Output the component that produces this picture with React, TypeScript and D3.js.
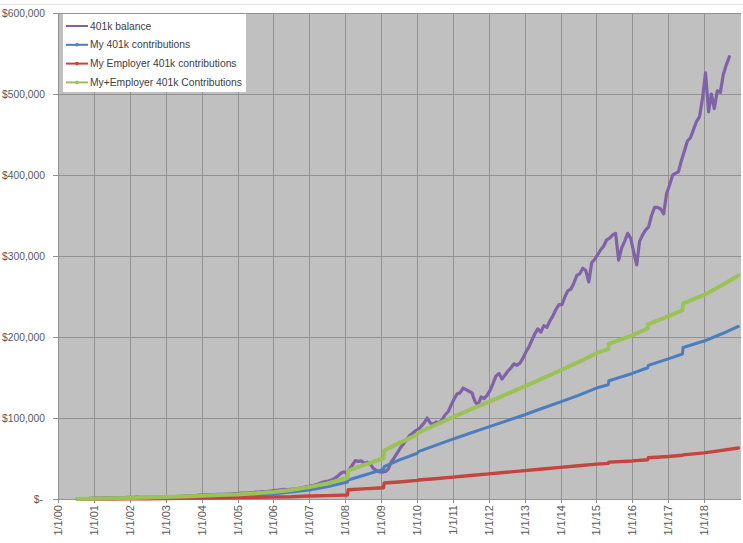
import React from "react";
import * as d3 from "d3";

// Monthly 401k balance in $ thousands, starting July 2000.
const balanceStart = new Date(2000, 6, 15);
const balanceK = [
  // 2000 (Jul-Dec)
  0.2, 0.4, 0.5, 0.6, 0.7, 0.9,
  // 2001
  1.0, 1.1, 1.1, 1.3, 1.4, 1.4, 1.5, 1.5, 1.4, 1.6, 1.8, 1.9,
  // 2002
  2.0, 2.1, 2.2, 2.1, 2.1, 2.0, 1.9, 2.0, 1.9, 2.1, 2.3, 2.3,
  // 2003
  2.4, 2.4, 2.6, 2.9, 3.2, 3.4, 3.6, 3.8, 3.9, 4.2, 4.4, 4.7,
  // 2004
  5.0, 5.2, 5.2, 5.3, 5.4, 5.6, 5.6, 5.7, 5.9, 6.1, 6.5, 6.8,
  // 2005
  7.0, 7.3, 7.3, 7.4, 7.8, 8.1, 8.6, 8.7, 9.0, 9.0, 9.6, 10.0,
  // 2006
  10.6, 10.9, 11.4, 11.9, 11.6, 11.8, 12.1, 12.6, 13.2, 13.9, 14.6, 15.2,
  // 2007
  16.2, 16.8, 17.8, 19.2, 20.6, 21.5, 22.2, 23.4, 25.5, 28.0, 31.5, 33.5,
  // 2008
  32.0, 37.0, 42.0, 47.5, 46.5, 47.0, 44.0, 45.5, 43.0, 37.5, 35.0, 33.5,
  // 2009
  33.0, 34.0, 37.0, 46.0, 51.0, 57.0, 63.0, 68.0, 73.0, 78.0, 81.0, 84.0,
  // 2010
  86, 90, 94, 100, 94, 92, 95, 94, 98, 104, 108, 116,
  // 2011
  124, 130, 131, 137, 135, 133, 131, 120, 116, 126, 124, 128,
  // 2012
  134, 143, 152, 155, 148, 153, 158, 162, 167, 165, 168, 174,
  // 2013
  182, 188, 196, 204, 210, 206, 214, 212, 220, 226, 234, 240,
  // 2014
  240, 250, 257, 259, 266, 276, 278, 285, 282, 268, 292, 296,
  // 2015
  302, 308, 312, 320, 322, 326, 328, 295, 310, 318, 328, 322,
  // 2016
  305, 289, 318, 326, 332, 336, 350, 360, 360, 358, 352, 377,
  // 2017
  388, 400, 402, 404, 418, 430, 442, 446, 456, 466, 472, 494,
  // 2018 (Jan-Sep)
  526, 478, 500, 482, 504, 502, 524, 536, 546,
];

// Cumulative contributions in $ thousands.
const contribDates = [
  "2000-07-15", "2001-01-01", "2001-07-01", "2002-01-01", "2002-07-01",
  "2003-01-01", "2003-07-01", "2004-01-01", "2004-07-01", "2005-01-01",
  "2005-07-01", "2006-01-01", "2006-07-01", "2007-01-01", "2007-07-01",
  "2008-01-25", "2008-02-01", "2008-07-01", "2009-01-25", "2009-02-01",
  "2009-07-01", "2010-01-05", "2010-01-15", "2010-07-01", "2011-01-01",
  "2011-07-01", "2012-01-01", "2012-07-01", "2013-01-01", "2013-07-01",
  "2014-01-01", "2014-07-01", "2015-01-01", "2015-05-01", "2015-05-08",
  "2016-01-01", "2016-06-05", "2016-06-12", "2017-01-01", "2017-05-25",
  "2017-06-01", "2018-01-01", "2018-07-01", "2018-12-15",
];
const myContribK = [
  0, 0.4, 0.8, 1.2, 1.5, 1.9, 2.3, 2.8, 3.3, 4.0,
  5.0, 6.3, 8.5, 11.0, 15.0, 21.0, 23.5, 29.0, 36.5, 40.0,
  48.0, 56.5, 58.5, 66.0, 74.0, 81.5, 89.0, 96.5, 104.0, 112.0,
  120.0, 128.0, 137.0, 141.0, 146.0, 155.0, 162.0, 165.0, 173.0, 179.0,
  187.0, 195.0, 204.0, 213.0,
];
const employerContribK = [
  0, 0, 0, 0.1, 0.3, 0.6, 0.9, 1.3, 1.5, 1.7,
  2.0, 2.4, 2.7, 3.7, 4.2, 5.0, 11.5, 12.5, 13.8, 19.8,
  21.0, 23.0, 23.5, 25.0, 27.0, 29.0, 31.0, 33.0, 35.0, 37.0,
  39.0, 41.0, 43.0, 44.0, 45.5, 47.0, 48.5, 51.0, 52.5, 54.0,
  54.5, 57.0, 60.0, 63.0,
];

const yTicks = [0, 100000, 200000, 300000, 400000, 500000, 600000];
const seriesNames = [
  "401k balance",
  "My 401k contributions",
  "My Employer 401k contributions",
  "My+Employer 401k Contributions",
];
const seriesColors = ["#7f62a8", "#4a7ebf", "#c4443f", "#9bc256"];

type Pt = { date: Date; value: number };

export default function App() {
  const W = 743;
  const H = 543;
  const left = 58;
  const right = 740;
  const top = 13;
  const bottom = 499;

  const x = d3
    .scaleTime()
    .domain([new Date(2000, 0, 1), new Date(2019, 0, 1)])
    .range([left, right]);
  const y = d3.scaleLinear().domain([0, 600000]).range([bottom, top]);

  const parse = d3.timeParse("%Y-%m-%d");
  const balance: Pt[] = balanceK.map((v, i) => ({
    date: d3.timeMonth.offset(balanceStart, i),
    value: v * 1000,
  }));
  const mine: Pt[] = contribDates.map((d, i) => ({
    date: parse(d) as Date,
    value: myContribK[i] * 1000,
  }));
  const employer: Pt[] = contribDates.map((d, i) => ({
    date: parse(d) as Date,
    value: employerContribK[i] * 1000,
  }));
  const combined: Pt[] = contribDates.map((d, i) => ({
    date: parse(d) as Date,
    value: (myContribK[i] + employerContribK[i]) * 1000,
  }));

  const line = d3
    .line<Pt>()
    .x((d) => x(d.date))
    .y((d) => y(d.value));

  const years = d3.timeYear.range(new Date(2000, 0, 1), new Date(2019, 0, 1));
  const fmtDate = d3.timeFormat("%-m/%-d/%y");
  const fmtMoney = (v: number) => (v === 0 ? "$-" : "$" + d3.format(",")(v));

  const series: Pt[][] = [balance, mine, employer, combined];
  const widths = [3.2, 3, 3.4, 4];

  const textColor = "#595959";
  const gridColor = "#929292";
  const font = "'Liberation Sans', Arial, sans-serif";

  return (
    <div style={{ position: "absolute", left: 0, top: 0 }}>
      <svg width={W} height={H} style={{ display: "block", background: "#fff" }}>
        <line x1={0} x2={W} y1={4.5} y2={4.5} stroke="#e2e2e2" strokeWidth={1} />
        {/* plot area */}
        <rect x={left} y={top} width={right - left + 1} height={bottom - top} fill="#c0c0c0" />
        {/* horizontal gridlines */}
        {yTicks.map((t) => (
          <line
            key={"h" + t}
            x1={left - 5}
            x2={right + 1}
            y1={Math.round(y(t)) + 0.5}
            y2={Math.round(y(t)) + 0.5}
            stroke={gridColor}
            strokeWidth={1}
          />
        ))}
        {/* vertical gridlines */}
        {years.map((d) => (
          <line
            key={"v" + d.getFullYear()}
            x1={Math.round(x(d)) + 0.5}
            x2={Math.round(x(d)) + 0.5}
            y1={top}
            y2={bottom + 4}
            stroke={gridColor}
            strokeWidth={1}
          />
        ))}
        {/* y axis labels */}
        {yTicks.map((t) => (
          <text
            key={"yl" + t}
            x={t === 0 ? 43 : 45}
            y={y(t) + 3.5}
            textAnchor="end"
            fontFamily={font}
            fontSize={10.3}
            fill={textColor}
          >
            {fmtMoney(t)}
          </text>
        ))}
        {/* x axis labels */}
        {years.map((d) => (
          <text
            key={"xl" + d.getFullYear()}
            transform={`translate(${x(d) + 4},${505}) rotate(-90)`}
            textAnchor="end"
            fontFamily={font}
            fontSize={11}
            fill={textColor}
          >
            {fmtDate(d)}
          </text>
        ))}
        {/* series */}
        {series.map((s, i) => (
          <path
            key={"s" + i}
            d={line(s) || ""}
            fill="none"
            stroke={seriesColors[i]}
            strokeWidth={widths[i]}
            strokeLinejoin="round"
            strokeLinecap="round"
          />
        ))}
        {/* legend */}
        <rect x={63} y={14} width={183} height={78} fill="#ffffff" />
        {seriesNames.map((name, i) => {
          const cy = 26 + i * 18.8;
          return (
            <g key={"lg" + i}>
              <line x1={66} x2={88} y1={cy} y2={cy} stroke={seriesColors[i]} strokeWidth={2} />
              {i > 0 && <circle cx={77} cy={cy} r={1.8} fill={seriesColors[i]} />}
              <text
                x={90}
                y={cy + 3.6}
                fontFamily={font}
                fontSize={10.3}
                fill="#404040"
              >
                {name}
              </text>
            </g>
          );
        })}
      </svg>
    </div>
  );
}
